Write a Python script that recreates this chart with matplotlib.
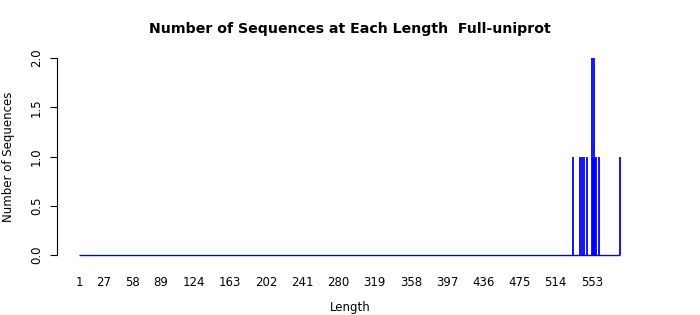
import numpy as np
import matplotlib
matplotlib.use("Agg")
import matplotlib.pyplot as plt

# sequence lengths that occur, and how many sequences have each length
seq_lengths = [533, 540, 542, 544, 548, 553, 554, 555, 556, 557, 561, 583]
seq_counts = [1, 1, 1, 1, 1, 2, 1, 2, 1, 1, 1, 1]
max_length = 583
x_labels = [1, 27, 58, 89, 124, 163, 202, 241, 280, 319, 358, 397, 436, 475, 514, 553]
y_ticks = [0.0, 0.5, 1.0, 1.5, 2.0]

all_lengths = np.arange(1, max_length + 1)
all_counts = np.zeros(max_length)
for L, c in zip(seq_lengths, seq_counts):
    all_counts[L - 1] = c

fig = plt.figure(figsize=(7, 3.15), dpi=100)
ax = fig.add_axes([57 / 700, 1 - 263 / 315, 585 / 700, 213 / 315])

ax.vlines(all_lengths[all_counts > 0], 0, all_counts[all_counts > 0],
          color="#0000ff", lw=1.3)
ax.hlines(0, all_lengths[0], all_lengths[-1], color="#0000ff", lw=1.0)

ax.set_xlim(-23, 607)
ax.set_ylim(-0.08, 2.08)

for s in ["top", "right", "bottom"]:
    ax.spines[s].set_visible(False)
ax.spines["left"].set_bounds(0, 2)
ax.spines["left"].set_linewidth(0.8)

ax.set_yticks(y_ticks)
ax.set_yticklabels(["%.1f" % v for v in y_ticks], rotation=90, va="center", fontsize=8.5)
ax.tick_params(axis="y", length=5, width=0.8, pad=5)
ax.set_xticks(x_labels)
ax.set_xticklabels([str(v) for v in x_labels], fontsize=8.5)
ax.tick_params(axis="x", length=0, pad=9)

fig.text(350 / 700, 1 - 307 / 315, "Length", fontsize=8.5, ha="center", va="center")
fig.text(9 / 700, 1 - 157 / 315, "Number of Sequences", fontsize=8.5,
         rotation=90, ha="center", va="center")
fig.text(350 / 700, 1 - 29 / 315, "Number of Sequences at Each Length  Full-uniprot",
         fontsize=10.2, fontweight="bold", ha="center", va="center")

fig.savefig("out.png", dpi=100)
